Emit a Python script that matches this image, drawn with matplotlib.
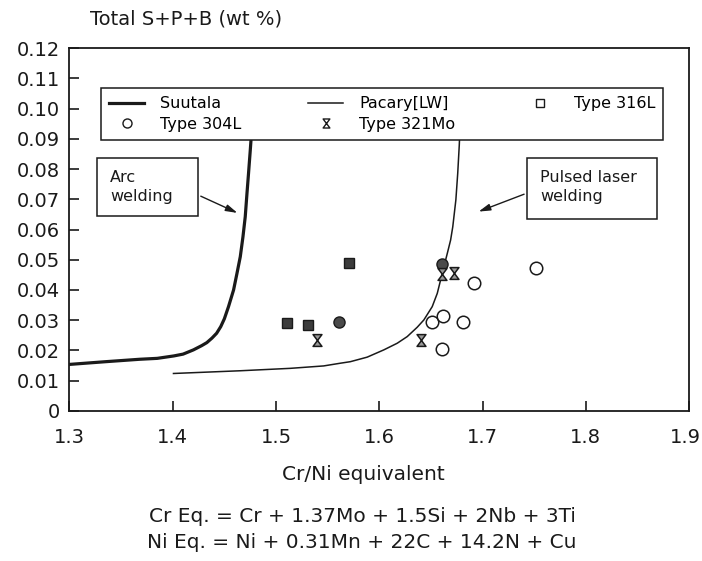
import matplotlib
matplotlib.use("Agg")
import matplotlib.pyplot as plt
import matplotlib.transforms as mtransforms
from matplotlib.lines import Line2D
from matplotlib.patches import Rectangle
from matplotlib.path import Path

# curves
suutala_x = [1.300, 1.335, 1.368, 1.385, 1.401, 1.410, 1.420, 1.428, 1.433, 1.438, 1.4425, 1.4465, 1.4500,
             1.454, 1.4589, 1.4622, 1.4654, 1.468, 1.4702, 1.4719, 1.4734, 1.4751, 1.4765, 1.4778]
suutala_y = [0.0154, 0.0163, 0.0171, 0.0174, 0.0182, 0.0188, 0.0202, 0.0216, 0.0226, 0.0241, 0.0257, 0.0279, 0.0305,
             0.0345, 0.0400, 0.0455, 0.0510, 0.0576, 0.0642, 0.0720, 0.0786, 0.0863, 0.0930, 0.1000]
pacary_x = [1.4007, 1.4654, 1.5139, 1.5462, 1.5624, 1.572, 1.5883, 1.6044, 1.6174, 1.6271, 1.6368,
            1.6432, 1.6513, 1.6562, 1.6594, 1.6626, 1.6659, 1.6691, 1.6712, 1.6742, 1.6760, 1.6775, 1.6790]
pacary_y = [0.0124, 0.0133, 0.0141, 0.0149, 0.0158, 0.0163, 0.0178, 0.0202, 0.0224, 0.0246, 0.0277,
            0.0301, 0.0345, 0.0389, 0.0433, 0.0477, 0.0521, 0.0565, 0.0609, 0.0698, 0.0786, 0.0879, 0.1000]

# measured points
t316_x = [1.511, 1.531, 1.571]
t316_y = [0.0290, 0.0284, 0.0488]
dark_x = [1.561, 1.661]
dark_y = [0.0294, 0.0486]
t304_x = [1.651, 1.662, 1.681, 1.661, 1.692, 1.752]
t304_y = [0.0294, 0.0314, 0.0294, 0.0204, 0.0424, 0.0472]
t321_x = [1.540, 1.640, 1.661, 1.672]
t321_y = [0.0235, 0.0235, 0.0452, 0.0455]

x_ticks = [1.3, 1.4, 1.5, 1.6, 1.7, 1.8, 1.9]
y_ticks = [0, 0.01, 0.02, 0.03, 0.04, 0.05, 0.06, 0.07, 0.08, 0.09, 0.10, 0.11, 0.12]
y_labels = ["0", "0.01", "0.02", "0.03", "0.04", "0.05", "0.06", "0.07", "0.08", "0.09", "0.10", "0.11", "0.12"]

INK = "#1a1a1a"

# hourglass marker used for Type 321Mo
hourglass = Path([(-0.75, 1), (0.75, 1), (0, 0), (0.75, -1), (-0.75, -1), (0, 0), (-0.75, 1)],
                 [Path.MOVETO, Path.LINETO, Path.LINETO, Path.LINETO, Path.LINETO, Path.LINETO, Path.CLOSEPOLY])

plt.rcParams["font.family"] = ["DejaVu Sans"]

fig = plt.figure(figsize=(7.02, 5.61), dpi=100, facecolor="white")
ax = fig.add_axes([0.099, 0.2674, 0.8825, 0.647])

ax.plot(suutala_x, suutala_y, color=INK, lw=2.3, zorder=2, solid_joinstyle="round")
ax.plot(pacary_x, pacary_y, color=INK, lw=1.1, zorder=2, solid_joinstyle="round")

ax.plot(t316_x, t316_y, ls="none", marker="s", ms=7, mfc="#3c3c3c", mec=INK, mew=1.0, zorder=3)
ax.plot(dark_x, dark_y, ls="none", marker="o", ms=8, mfc="#4a4a4a", mec=INK, mew=1.0, zorder=3)
ax.plot(t304_x, t304_y, ls="none", marker="o", ms=9, mfc="white", mec=INK, mew=1.1, zorder=3)
ax.plot(t321_x, t321_y, ls="none", marker=hourglass, ms=8.5, mfc="#9a9a9a", mec=INK, mew=1.1, zorder=4)

ax.set_xlim(1.3, 1.9)
ax.set_ylim(0, 0.12)
ax.set_xticks(x_ticks)
ax.set_xticklabels([f"{v:.1f}" for v in x_ticks])
ax.set_yticks(y_ticks)
ax.set_yticklabels(y_labels)
ax.tick_params(direction="in", length=7, width=1.2, labelsize=14, colors=INK)
ax.tick_params(axis="x", pad=12)
ax.tick_params(axis="y", pad=7)
for sp in ax.spines.values():
    sp.set_linewidth(1.3)
    sp.set_color(INK)

# keep the last x label inside the canvas
last = ax.get_xticklabels()[-1]
last.set_transform(last.get_transform() + mtransforms.ScaledTranslation(-4 / 100, 0, fig.dpi_scale_trans))

handles = [
    Line2D([], [], color=INK, lw=2.3),
    Line2D([], [], ls="none", marker="o", ms=6.5, mfc="white", mec=INK, mew=1.0),
    Line2D([], [], color=INK, lw=1.1),
    Line2D([], [], ls="none", marker=hourglass, ms=6.5, mfc="white", mec=INK, mew=1.0),
    Line2D([], [], ls="none", marker="s", ms=6, mfc="white", mec=INK, mew=1.0),
]
labels = ["Suutala", "Type 304L", "Pacary[LW]", "Type 321Mo", "Type 316L"]
leg = ax.legend(handles, labels, ncol=3, mode="expand", loc="lower left",
                bbox_to_anchor=(0.0508, 0.7466, 0.907, 0.1924), fontsize=11.5,
                frameon=True, fancybox=False, edgecolor=INK, facecolor="white", framealpha=1.0,
                handlelength=2.2, handletextpad=1.0, borderpad=0.5, labelspacing=0.35,
                borderaxespad=0.0)
leg.get_frame().set_linewidth(1.1)
leg.set_zorder(5)

# annotation boxes
ax.add_patch(Rectangle((1.3269, 0.0645), 0.0978, 0.0191, fill=False, ec=INK, lw=1.1, zorder=5))
ax.text(1.3392, 0.0740, "Arc\nwelding", fontsize=11.5, color=INK, va="center", ha="left", linespacing=1.35)
ax.annotate("", xy=(1.4651, 0.0651), xytext=(1.4247, 0.0714),
            arrowprops=dict(arrowstyle="-|>,head_length=0.7,head_width=0.2", color=INK, lw=1.0))

ax.add_patch(Rectangle((1.7428, 0.0634), 0.1259, 0.0201, fill=False, ec=INK, lw=1.1, zorder=5))
ax.text(1.7557, 0.0740, "Pulsed laser\nwelding", fontsize=11.5, color=INK, va="center", ha="left", linespacing=1.35)
ax.annotate("", xy=(1.6937, 0.0656), xytext=(1.7428, 0.0720),
            arrowprops=dict(arrowstyle="-|>,head_length=0.7,head_width=0.2", color=INK, lw=1.0))

fig.text(90 / 702, 1 - 19 / 561, "Total S+P+B (wt %)", fontsize=14, color=INK, ha="left", va="center")
fig.text(363 / 702, 1 - 474 / 561, "Cr/Ni equivalent", fontsize=14.5, color=INK, ha="center", va="center")
fig.text(362 / 702, 1 - 517 / 561, "Cr Eq. = Cr + 1.37Mo + 1.5Si + 2Nb + 3Ti", fontsize=14.5, color=INK, ha="center", va="center")
fig.text(362 / 702, 1 - 542 / 561, "Ni Eq. = Ni + 0.31Mn + 22C + 14.2N + Cu", fontsize=14.5, color=INK, ha="center", va="center")

fig.savefig("out.png", dpi=100, facecolor="white")
